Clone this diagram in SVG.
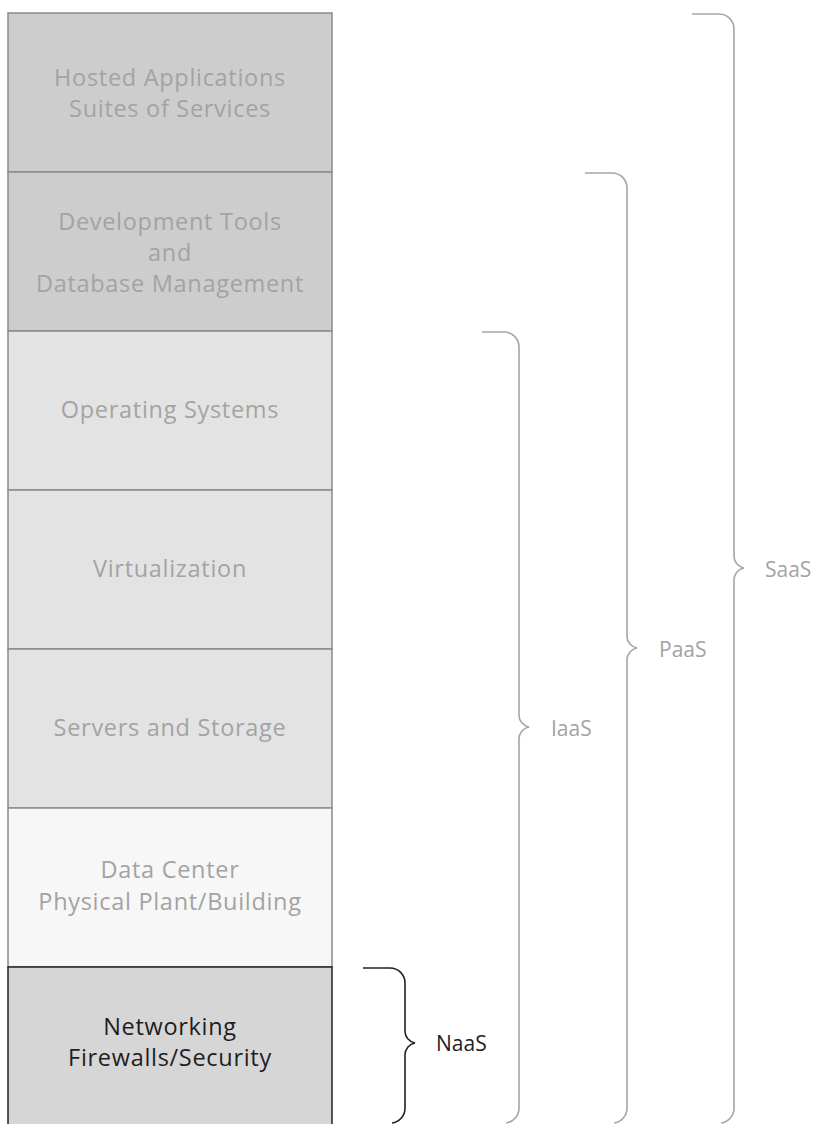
<svg xmlns="http://www.w3.org/2000/svg" width="821" height="1124" viewBox="0 0 821 1124">
<style>
.box{stroke:#8a8a8a;stroke-width:1.5}
.lbl{font-family:"Open Sans","Noto Sans",sans-serif;font-size:23.5px;letter-spacing:0.7px;fill:#a3a3a3;text-anchor:middle}
.dark{fill:#1e1e1e}
.brace{fill:none;stroke:#a6a6a6;stroke-width:1.6}
.bl{font-family:"Open Sans","Noto Sans",sans-serif;font-size:21px;fill:#a3a3a3}
</style>
<rect width="821" height="1124" fill="#ffffff"/>
<g id="hosted"><rect class="box" x="8" y="13" width="324" height="159" fill="#cdcdcd"/>
<text class="lbl" x="170" y="86">Hosted Applications</text><text class="lbl" x="170" y="117">Suites of Services</text></g>
<g id="devtools"><rect class="box" x="8" y="172" width="324" height="159" fill="#cdcdcd"/>
<text class="lbl" x="170" y="230">Development Tools</text><text class="lbl" x="170" y="261">and</text><text class="lbl" x="170" y="292">Database Management</text></g>
<g id="os"><rect class="box" x="8" y="331" width="324" height="159" fill="#e3e3e3"/>
<text class="lbl" x="170" y="418">Operating Systems</text></g>
<g id="virt"><rect class="box" x="8" y="490" width="324" height="159" fill="#e3e3e3"/>
<text class="lbl" x="170" y="577">Virtualization</text></g>
<g id="servers"><rect class="box" x="8" y="649" width="324" height="159" fill="#e3e3e3"/>
<text class="lbl" x="170" y="736">Servers and Storage</text></g>
<g id="datacenter"><rect class="box" x="8" y="808" width="324" height="159" fill="#f7f7f7"/>
<text class="lbl" x="170" y="878">Data Center</text><text class="lbl" x="170" y="910">Physical Plant/Building</text></g>
<g id="networking"><rect x="8" y="967" width="324" height="170" fill="#d6d6d6" stroke="#222" stroke-width="1.5"/>
<text class="lbl dark" x="170" y="1035">Networking</text><text class="lbl dark" x="170" y="1066">Firewalls/Security</text></g>
<g id="connectors">
<path class="brace" style="stroke:#222" d="M363 968 H390 A15 15 0 0 1 405 983 V1031 A12 12 0 0 0 415 1043 A12 12 0 0 0 405 1055 V1108 A15 15 0 0 1 392 1123"/>
<path class="brace" d="M482 332 H504 A15 15 0 0 1 519 347 V715 A12 12 0 0 0 529 727 A12 12 0 0 0 519 739 V1108 A15 15 0 0 1 506 1123"/>
<path class="brace" d="M585 173 H612 A15 15 0 0 1 627 188 V636 A12 12 0 0 0 637 648 A12 12 0 0 0 627 660 V1108 A15 15 0 0 1 614 1123"/>
<path class="brace" d="M692 14 H719 A15 15 0 0 1 734 29 V556 A12 12 0 0 0 744 568 A12 12 0 0 0 734 580 V1108 A15 15 0 0 1 721 1123"/>
</g>
<g id="naas"><text class="bl" style="fill:#1e1e1e" x="436" y="1051">NaaS</text></g>
<g id="iaas"><text class="bl" x="551" y="736">IaaS</text></g>
<g id="paas"><text class="bl" x="659" y="657">PaaS</text></g>
<g id="saas"><text class="bl" x="765" y="577">SaaS</text></g>
</svg>
